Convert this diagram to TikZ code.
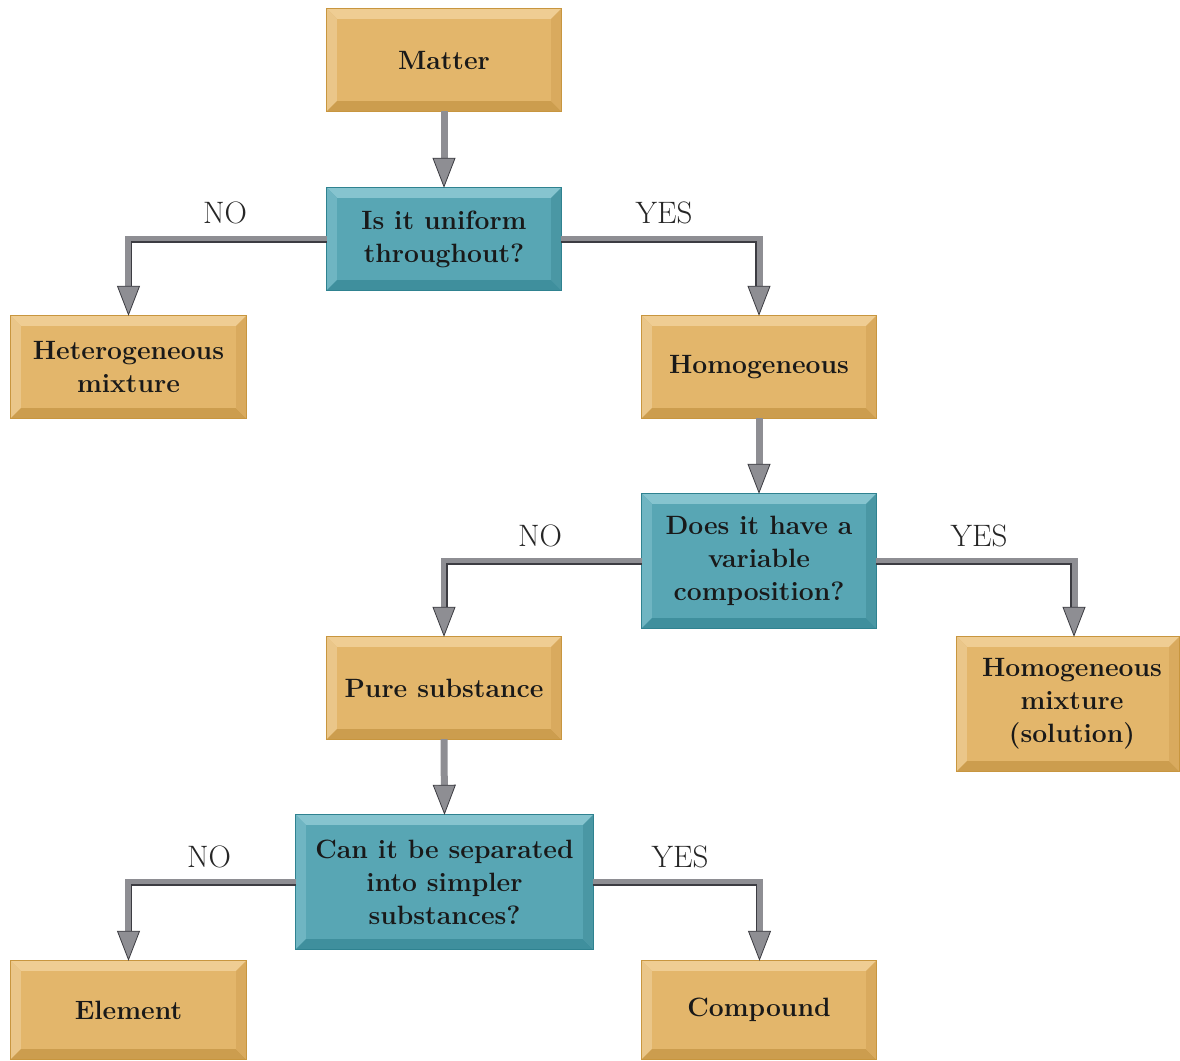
\documentclass[tikz,border=0pt]{standalone}
\usetikzlibrary{arrows.meta,calc}
\definecolor{tanmain}{HTML}{E3B66B}
\definecolor{tantop}{HTML}{EFCD93}
\definecolor{tanleft}{HTML}{EAC689}
\definecolor{tanbot}{HTML}{CC9D4E}
\definecolor{tanright}{HTML}{D9AA5E}
\definecolor{tanedge}{HTML}{C8963F}
\definecolor{tealmain}{HTML}{58A6B4}
\definecolor{tealtop}{HTML}{86C4CF}
\definecolor{tealleft}{HTML}{6FB5C2}
\definecolor{tealbot}{HTML}{3F8F9D}
\definecolor{tealright}{HTML}{4A97A4}
\definecolor{tealedge}{HTML}{2F8290}
\definecolor{arrowgray}{HTML}{8E8E93}
\definecolor{arrowdark}{HTML}{3C3C42}
\tikzset{
  box/.style={rectangle, inner sep=0pt, align=center,
    font=\fontsize{26.5}{33}\selectfont\bfseries, text=black!90},
  tanbox/.style={box, fill=tanmain},
  tealbox/.style={box, fill=tealmain},
  conn/.style={line width=7pt, draw=arrowgray, line join=miter,
    -{Triangle[width=23pt,length=30pt,fill=arrowgray,color=arrowdark,line width=0.8pt]}},
  shadowline/.style={line width=1.4pt, draw=arrowdark, shorten >=30pt},
  lbl/.style={font=\fontsize{31}{33}\selectfont, text=black!85},
}
\newcommand\bevbox[2]{%
  \fill[#2top] (#1.north west) -- (#1.north east) -- ($(#1.north east)+(-10pt,-10pt)$) -- ($(#1.north west)+(10pt,-10pt)$) -- cycle;
  \fill[#2left] (#1.north west) -- ($(#1.north west)+(10pt,-10pt)$) -- ($(#1.south west)+(10pt,10pt)$) -- (#1.south west) -- cycle;
  \fill[#2bot] (#1.south west) -- ($(#1.south west)+(10pt,10pt)$) -- ($(#1.south east)+(-10pt,10pt)$) -- (#1.south east) -- cycle;
  \fill[#2right] (#1.south east) -- ($(#1.south east)+(-10pt,10pt)$) -- ($(#1.north east)+(-10pt,-10pt)$) -- (#1.north east) -- cycle;
  \draw[#2edge, line width=1pt] (#1.north west) rectangle (#1.south east);}
\begin{document}
\begin{tikzpicture}[x=1pt,y=1pt]
\useasboundingbox (0,0) rectangle (1180,-1060);
% nodes
\node[tanbox, minimum width=234pt, minimum height=102pt] (matter) at (444,-60) {};
\node[tealbox, minimum width=234pt, minimum height=102pt] (q1) at (444,-239) {};
\node[tanbox, minimum width=235pt, minimum height=102pt] (het) at (128.5,-367) {};
\node[tanbox, minimum width=234pt, minimum height=102pt] (hom) at (759,-367) {};
\node[tealbox, minimum width=234pt, minimum height=134pt] (q2) at (759,-561) {};
\node[tanbox, minimum width=234pt, minimum height=102pt] (pure) at (444,-688) {};
\node[tanbox, minimum width=222pt, minimum height=134pt] (hmix) at (1068,-704) {};
\node[tealbox, minimum width=297pt, minimum height=134pt] (q3) at (444.5,-882) {};
\node[tanbox, minimum width=235pt, minimum height=98pt] (elem) at (128.5,-1010) {};
\node[tanbox, minimum width=234pt, minimum height=98pt] (comp) at (759,-1010) {};
% bevels
\bevbox{matter}{tan}
\bevbox{q1}{teal}
\bevbox{het}{tan}
\bevbox{hom}{tan}
\bevbox{q2}{teal}
\bevbox{pure}{tan}
\bevbox{hmix}{tan}
\bevbox{q3}{teal}
\bevbox{elem}{tan}
\bevbox{comp}{tan}
% texts
\node[box] (tmatter) at (matter) {Matter};
\node[box] (tq1) at (q1) {Is it uniform\\throughout?};
\node[box] (thet) at (het) {Heterogeneous\\mixture};
\node[box] (thom) at (hom) {Homogeneous};
\node[box] (tq2) at (q2) {Does it have a\\variable\\composition?};
\node[box] (tpure) at (pure) {Pure substance};
\node[box] (thmix) at ([xshift=4pt]hmix.center) {Homogeneous\\mixture\\(solution)};
\node[box] (tq3) at (q3) {Can it be separated\\into simpler\\substances?};
\node[box] (telem) at (elem) {Element};
\node[box] (tcomp) at (comp) {Compound};
% connectors
\draw[conn] (matter.south) -- (q1.north);
\draw[conn] (q1.west) -| (het.north);
\draw[shadowline] ([yshift=-3pt]q1.west) -| ([xshift=3pt]het.north);
\draw[conn] (q1.east) -| (hom.north);
\draw[shadowline] ([yshift=-3pt]q1.east) -| ([xshift=-3pt]hom.north);
\draw[conn] (hom.south) -- (q2.north);
\draw[conn] (q2.west) -| (pure.north);
\draw[shadowline] ([yshift=-3pt]q2.west) -| ([xshift=3pt]pure.north);
\draw[conn] (q2.east) -| ([xshift=6pt]hmix.north);
\draw[shadowline] ([yshift=-3pt]q2.east) -| ([xshift=3pt]hmix.north);
\draw[conn] (pure.south) -- (q3.north);
\draw[conn] (q3.west) -| (elem.north);
\draw[shadowline] ([yshift=-3pt]q3.west) -| ([xshift=3pt]elem.north);
\draw[conn] (q3.east) -| ([xshift=0.5pt]comp.north);
\draw[shadowline] ([yshift=-3pt]q3.east) -| ([xshift=-2.5pt]comp.north);
% labels
\node[lbl] (l1) at (225,-213) {NO};
\node[lbl] (l2) at (664,-213) {YES};
\node[lbl] (l3) at (540,-536) {NO};
\node[lbl] (l4) at (979,-536) {YES};
\node[lbl] (l5) at (209,-857) {NO};
\node[lbl] (l6) at (680,-857) {YES};
\end{tikzpicture}
\end{document}
